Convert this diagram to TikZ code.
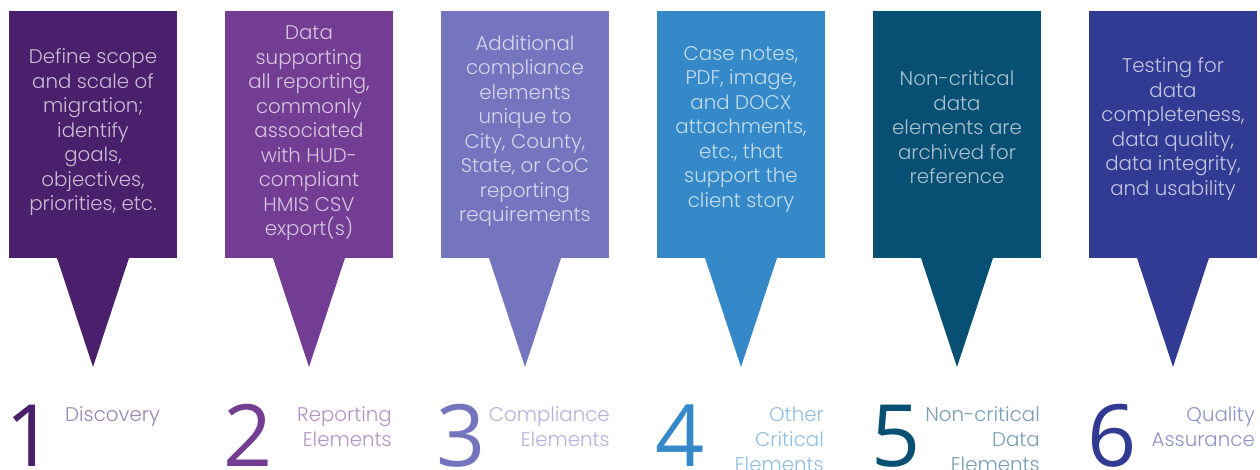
\documentclass[tikz,border=0pt]{standalone}
\usepackage{fontspec}
\newfontfamily\lt{Poppins Light}
\newfontfamily\num{Open Sans}
\definecolor{c1}{HTML}{4A1F6B}
\definecolor{c2}{HTML}{733D93}
\definecolor{c3}{HTML}{7574BE}
\definecolor{c4}{HTML}{3589C8}
\definecolor{c5}{HTML}{084F74}
\definecolor{c6}{HTML}{323B94}
\usetikzlibrary{calc}
\tikzset{
  panel/.style={minimum width=168pt, minimum height=247pt, inner sep=0pt, outer sep=0pt},
  boxtext/.style={align=center, inner sep=0pt, font=\lt\fontsize{19.8}{24.5}\selectfont},
  lbl/.style={align=right, inner sep=0pt, anchor=base east, font=\lt\fontsize{19.8}{25}\selectfont},
  digit/.style={inner sep=0pt, anchor=base, font=\num\fontsize{86}{86}\selectfont},
}
\newcommand{\tip}[2]{\fill[#2] ([xshift=-36pt]#1.south) -- ([xshift=36pt]#1.south) -- ([yshift=-109pt]#1.south) -- cycle;}
\begin{document}
\begin{tikzpicture}[x=1pt,y=-1pt]
\useasboundingbox (0,0) rectangle (1260,469);
% panels
\node[panel, fill=c1] (p1) at (93,134.5) {};
\node[panel, fill=c2] (p2) at (309,134.5) {};
\node[panel, fill=c3] (p3) at (525,134.5) {};
\node[panel, fill=c4] (p4) at (741,134.5) {};
\node[panel, fill=c5] (p5) at (957,134.5) {};
\node[panel, fill=c6] (p6) at (1173,134.5) {};
\tip{p1}{c1}
\tip{p2}{c2}
\tip{p3}{c3}
\tip{p4}{c4}
\tip{p5}{c5}
\tip{p6}{c6}
% box texts
\node[boxtext, text=white!70!c1] (t1) at (93,132.5) {Define scope\\and scale of\\migration;\\identify\\goals,\\objectives,\\priorities, etc.};
\node[boxtext, text=white!70!c2] (t2) at (309,133.5) {Data\\supporting\\all reporting,\\commonly\\associated\\with HUD-\\compliant\\HMIS CSV\\export(s)};
\node[boxtext, text=white!70!c3] (t3) at (525,131) {Additional\\compliance\\elements\\unique to\\City, County,\\State, or CoC\\reporting\\requirements};
\node[boxtext, text=white!70!c4] (t4) at (741,129.5) {Case notes,\\PDF, image,\\and DOCX\\attachments,\\etc., that\\support the\\client story};
\node[boxtext, text=white!65!c5] (t5) at (957,127.5) {Non-critical\\data\\elements are\\archived for\\reference};
\node[boxtext, text=white!70!c6] (t6) at (1173,129) {Testing for\\data\\completeness,\\data quality,\\data integrity,\\and usability};
% digits
\node[digit, text=c1] (n1) at (30,466) {1};
\node[digit, text=c2] (n2) at (248,466) {2};
\node[digit, text=c3] (n3) at (461,466) {3};
\node[digit, text=c4] (n4) at (680,466) {4};
\node[digit, text=c5] (n5) at (896,466) {5};
\node[digit, text=c6] (n6) at (1112,466) {6};
% labels (base anchor = baseline of last line)
\node[lbl, text=c1!55!white] (l1) at (160,421.5) {Discovery};
\node[lbl, text=c2!55!white] (l2) at (392,446.5) {Reporting\\Elements};
\node[lbl, text=c3!55!white] (l3) at (610,446.5) {Compliance\\Elements};
\node[lbl, text=c4!55!white] (l4) at (824,471.5) {Other\\Critical\\Elements};
\node[lbl, text=c5!55!white] (l5) at (1040,471.5) {Non-critical\\Data\\Elements};
\node[lbl, text=c6!55!white] (l6) at (1255,446.5) {Quality\\Assurance};
\end{tikzpicture}
\end{document}
